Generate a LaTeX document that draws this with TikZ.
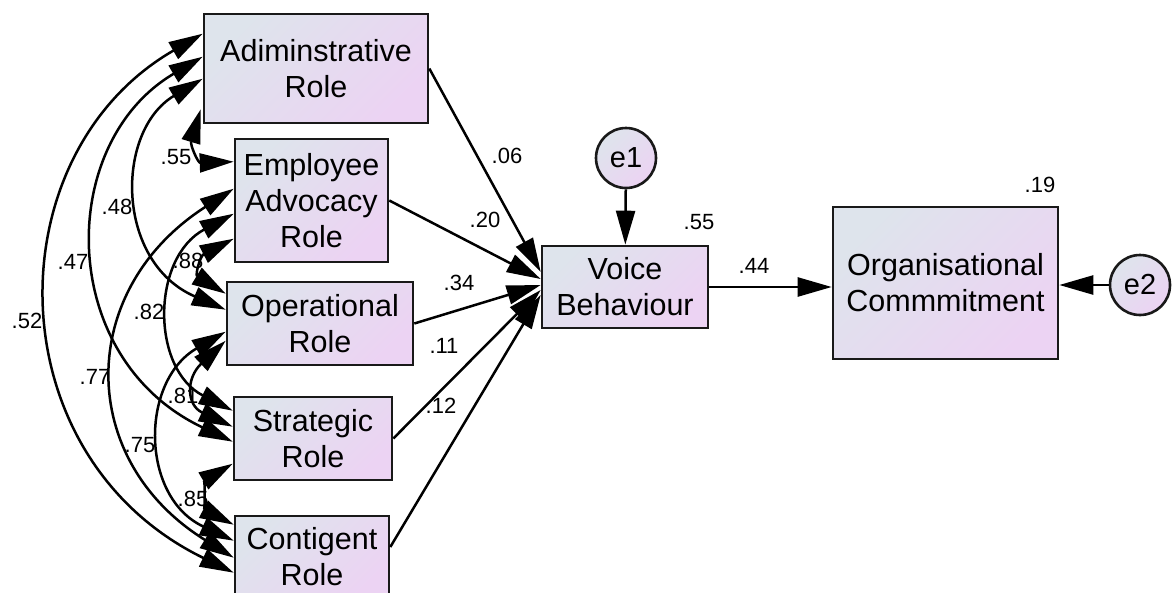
\documentclass[tikz,border=0pt]{standalone}
\usepackage{fontspec}
\setmainfont{Liberation Sans}
\usetikzlibrary{arrows.meta,calc}
\definecolor{gL}{RGB}{222,228,236}
\definecolor{gR}{RGB}{236,211,243}
\begin{document}
\begin{tikzpicture}[x=1pt,y=-1pt,
  box/.style={draw=black!90, line width=2.6pt, left color=gL, right color=gR, shading angle=45,
    inner sep=0pt, align=center, font=\fontsize{30.5}{36}\selectfont},
  err/.style={circle, draw=black!90, line width=2.6pt, left color=gL, right color=gR, shading angle=45,
    minimum size=60pt, inner sep=0pt, font=\fontsize{29}{34}\selectfont},
  lbl/.style={font=\fontsize{22}{26}\selectfont, inner sep=0pt},
  reg/.style={line width=2.5pt, -{Triangle[length=34pt,width=19pt]}},
  corr/.style={line width=2.5pt, {Triangle[length=34pt,width=19pt]}-{Triangle[length=34pt,width=19pt]}},
]
\useasboundingbox (0,0) rectangle (1173,592);

% boxes
\node[box, minimum width=224pt, minimum height=109pt] (adm) at (316,68.5) {Adiminstrative\\Role};
\node[box, minimum width=153pt, minimum height=123pt] (emp) at (311.5,200.5) {Employee\\Advocacy\\Role};
\node[box, minimum width=186pt, minimum height=83pt] (ope) at (320,323.5) {Operational\\Role};
\node[box, minimum width=158pt, minimum height=83pt] (str) at (313,438.5) {Strategic\\Role};
\node[box, minimum width=154pt, minimum height=82pt] (con) at (312,557) {Contigent\\Role};
\node[box, minimum width=166pt, minimum height=82pt] (voi) at (625,287) {Voice\\Behaviour};
\node[box, minimum width=225pt, minimum height=152pt] (org) at (945.5,283) {Organisational\\Commmitment};
\node[err] (e1) at (626,158) {e1};
\node[err] (e2) at (1140,285) {e2};

% regression paths
\draw[reg] (adm.east) -- ($(voi.west)+(0,-15)$);
\draw[reg] (emp.east) -- ($(voi.west)+(0,-8)$);
\draw[reg] (ope.east) -- ($(voi.west)+(0,-2)$);
\draw[reg] (str.east) -- ($(voi.west)+(0,3)$);
\draw[reg] ($(con.east)+(0,-10)$) -- ($(voi.west)+(0,8)$);
\draw[reg] (e1) -- (voi);
\draw[reg] (voi.east) -- (voi.east -| org.west);
\draw[reg] (e2) -- (e2 -| org.east);

% correlations
\draw[corr] ($(adm.north west)+(0,21)$) .. controls (-6,154) and (-6,456) .. ($(con.north west)+(0,58)$);
\draw[corr] ($(adm.north west)+(0,44)$) .. controls (56,143) and (56,358) .. ($(str.north west)+(0,46)$);
\draw[corr] ($(adm.north west)+(0,66)$) .. controls (115,131) and (115,262) .. ($(ope.north west)+(0,29)$);
\draw[corr] ($(adm.south west)+(-2,-15)$) .. controls (190,145) and (198,163) .. ($(emp.north west)+(0,24)$);
\draw[corr] ($(emp.north west)+(0,51)$) .. controls (76,290) and (76,460) .. ($(con.north west)+(0,43)$);
\draw[corr] ($(emp.north west)+(0,76)$) .. controls (151,258) and (151,369) .. ($(str.north west)+(0,15)$);
\draw[corr] ($(emp.north west)+(0,101)$) .. controls (200,256) and (195,275) .. ($(ope.north west)+(0,13)$);
\draw[corr] ($(ope.north west)+(0,60)$) .. controls (186,378) and (186,405) .. ($(str.north west)+(0,31)$);
\draw[corr] ($(ope.north west)+(0,51)$) .. controls (140,381) and (140,497) .. ($(con.north west)+(0,26)$);
\draw[corr] ($(str.north west)+(0,68)$) .. controls (205,480) and (205,510) .. ($(con.north west)+(0,10)$);

% labels
\node[lbl] (l06) at (507,156) {.06};
\node[lbl] (l20) at (485,220) {.20};
\node[lbl] (l34) at (459,283) {.34};
\node[lbl] (l11) at (444,346) {.11};
\node[lbl] (l12) at (441,406) {.12};
\node[lbl] (lr1) at (699,222) {.55};
\node[lbl] (l44) at (754,266) {.44};
\node[lbl] (lr2) at (1040,185) {.19};
\node[lbl] (c55) at (176,157) {.55};
\node[lbl] (c48) at (117,207) {.48};
\node[lbl] (c47) at (73,262) {.47};
\node[lbl] (c88) at (188,261) {.88};
\node[lbl] (c82) at (149,312) {.82};
\node[lbl] (c52) at (27,321) {.52};
\node[lbl] (c77) at (95,377) {.77};
\node[lbl] (c81) at (183,396) {.81};
\node[lbl] (c75) at (140,445) {.75};
\node[lbl] (c85) at (193,499) {.85};
\end{tikzpicture}
\end{document}
